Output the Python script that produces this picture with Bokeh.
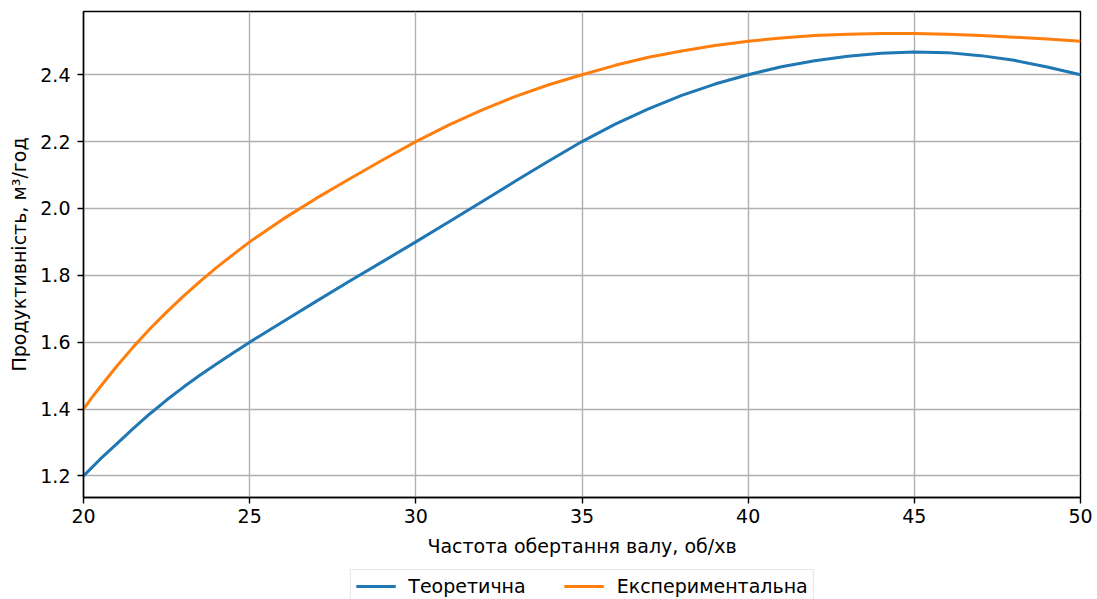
from bokeh.plotting import figure
from bokeh.layouts import column
from bokeh.models import Range1d, FixedTicker, Legend, LegendItem, PrintfTickFormatter
from bokeh.embed import file_html
from bokeh.resources import INLINE

# ---- data ----
freq = [20, 20.25, 20.5, 21, 21.5, 22, 22.5, 23, 23.5, 24, 24.5, 25, 26, 27, 28, 29, 30,
        31, 32, 33, 34, 35, 36, 37, 38, 39, 40, 41, 42, 43, 44, 45, 46, 47, 48, 49, 50]
theoretical = [1.200, 1.225, 1.250, 1.296, 1.342, 1.386, 1.427, 1.465, 1.501, 1.535,
               1.568, 1.600, 1.661, 1.722, 1.782, 1.841, 1.900, 1.960, 2.021, 2.082,
               2.142, 2.200, 2.252, 2.298, 2.338, 2.372, 2.400, 2.424, 2.442, 2.455,
               2.464, 2.468, 2.466, 2.457, 2.443, 2.423, 2.400]
experimental = [1.400, 1.434, 1.466, 1.528, 1.586, 1.640, 1.690, 1.737, 1.781, 1.823,
                1.862, 1.900, 1.968, 2.030, 2.088, 2.145, 2.200, 2.250, 2.295, 2.335,
                2.370, 2.400, 2.428, 2.452, 2.471, 2.487, 2.500, 2.510, 2.517, 2.521,
                2.523, 2.523, 2.521, 2.517, 2.512, 2.507, 2.500]
series_names = ["Теоретична", "Експериментальна"]
series_colors = ["#1f77b4", "#ff7f0e"]
x_ticks = [20, 25, 30, 35, 40, 45, 50]
x_tick_labels = ["20", "25", "30", "35", "40", "45", "50"]
y_ticks = [1.2, 1.4, 1.6, 1.8, 2.0, 2.2, 2.4]
y_tick_labels = ["1.2", "1.4", "1.6", "1.8", "2.0", "2.2", "2.4"]
x_title = "Частота обертання валу, об/хв"
y_title = "Продуктивність, м³/год"

FONT = "DejaVu Sans"
FS = "19px"

# ---- main chart ----
p = figure(width=1097, height=566, output_backend="svg", toolbar_location=None,
           x_range=Range1d(20, 50), y_range=Range1d(1.1355, 2.589),
           min_border_left=83, min_border_right=17, min_border_top=11,
           min_border_bottom=69)
p.background_fill_color = "white"
p.border_fill_color = "white"
p.outline_line_color = "black"
p.outline_line_width = 1.4
p.outline_line_alpha = 1.0

p.xaxis.ticker = FixedTicker(ticks=x_ticks)
p.yaxis.ticker = FixedTicker(ticks=y_ticks)
p.xaxis.major_label_overrides = dict(zip(x_ticks, x_tick_labels))
p.yaxis.major_label_overrides = dict(zip(y_ticks, y_tick_labels))
p.yaxis.formatter = PrintfTickFormatter(format="%.1f")

for ax in (p.xaxis[0], p.yaxis[0]):
    ax.axis_line_color = "black"
    ax.axis_line_width = 1.4
    ax.major_tick_line_color = "black"
    ax.major_tick_line_width = 1.4
    ax.major_tick_out = 6
    ax.major_tick_in = 0
    ax.minor_tick_line_color = None
    ax.major_label_text_font = FONT
    ax.major_label_text_font_size = FS
    ax.major_label_text_color = "black"
    ax.axis_label_text_font = FONT
    ax.axis_label_text_font_size = FS
    ax.axis_label_text_font_style = "normal"
    ax.axis_label_text_color = "black"

p.xaxis.axis_label = x_title
p.yaxis.axis_label = y_title
p.xaxis.major_label_standoff = 5
p.xaxis.axis_label_standoff = 9
p.yaxis.major_label_standoff = 7
p.yaxis.axis_label_standoff = 7

p.grid.grid_line_color = "#b0b0b0"
p.grid.grid_line_width = 1.4

p.line(freq, theoretical, line_color=series_colors[0], line_width=3)
p.line(freq, experimental, line_color=series_colors[1], line_width=3)

# ---- legend strip below the chart ----
lg = figure(width=1097, height=33, output_backend="svg", toolbar_location=None,
            x_range=Range1d(0, 1), y_range=Range1d(0, 1),
            x_axis_type=None, y_axis_type=None,
            min_border_left=83, min_border_right=17, min_border_top=0,
            min_border_bottom=0)
lg.grid.visible = False
lg.outline_line_color = None
lg.background_fill_color = "white"
lg.border_fill_color = "white"
l1 = lg.line(freq, theoretical, line_color=series_colors[0], line_width=3)
l2 = lg.line(freq, experimental, line_color=series_colors[1], line_width=3)

legend = Legend(items=[LegendItem(label=series_names[0], renderers=[l1]),
                       LegendItem(label=series_names[1], renderers=[l2])],
                orientation="horizontal", location="top_center",
                margin=3, padding=5, spacing=38, glyph_width=40, glyph_height=20,
                label_standoff=13, label_height=20,
                label_text_font=FONT, label_text_font_size=FS,
                label_text_color="black",
                border_line_color="#cccccc", border_line_width=1.2,
                background_fill_color="white", background_fill_alpha=1.0)
lg.add_layout(legend, "center")

layout = column(p, lg, spacing=0)
open("out.html", "w").write(file_html(layout, INLINE))
